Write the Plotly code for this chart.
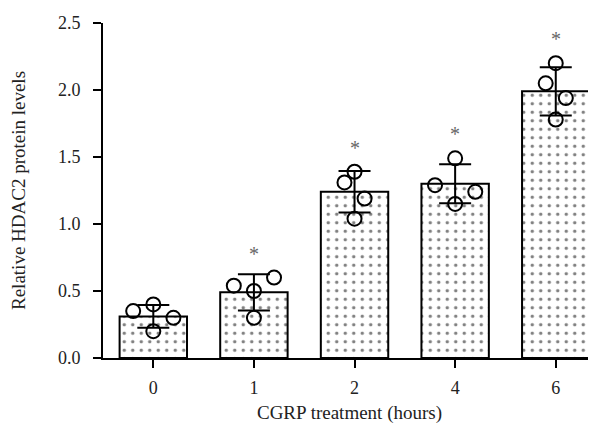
import plotly.graph_objects as go

categories = ["0", "1", "2", "4", "6"]
means = [0.31, 0.49, 1.24, 1.30, 1.99]
sds = [0.085, 0.135, 0.155, 0.145, 0.18]
points = [
    [0.35, 0.40, 0.30, 0.20],
    [0.54, 0.50, 0.60, 0.30],
    [1.31, 1.39, 1.19, 1.04],
    [1.29, 1.49, 1.24, 1.15],
    [2.05, 2.20, 1.94, 1.78],
]
jitter = [
    [-0.2, 0, 0.2, 0],
    [-0.2, 0, 0.2, 0],
    [-0.1, 0, 0.1, 0],
    [-0.2, 0, 0.2, 0],
    [-0.1, 0, 0.1, 0],
]
significant = [False, True, True, True, True]

FONT = "Liberation Serif"
xpos = list(range(len(categories)))

fig = go.Figure()
fig.add_trace(go.Bar(
    x=xpos, y=means, width=0.67,
    marker=dict(color="white",
                line=dict(color="black", width=2),
                pattern=dict(shape=".", fgcolor="black", bgcolor="white",
                             size=8.5, solidity=0.13)),
    error_y=dict(type="data", array=sds, visible=True, color="black",
                 thickness=2, width=16),
    showlegend=False,
))

px, py = [], []
for i, (vals, offs) in enumerate(zip(points, jitter)):
    for v, o in zip(vals, offs):
        px.append(i + o)
        py.append(v)
fig.add_trace(go.Scatter(
    x=px, y=py, mode="markers",
    marker=dict(symbol="circle-open", size=14, color="black",
                line=dict(width=2, color="black")),
    showlegend=False, cliponaxis=False,
))

for i, sig in enumerate(significant):
    if sig:
        fig.add_annotation(x=i, y=max(points[i]), text="*", showarrow=False,
                           yanchor="middle", yshift=24,
                           font=dict(family=FONT, size=20, color="#666666"))

fig.update_layout(
    width=596, height=426,
    margin=dict(l=95, r=8, t=15, b=76),
    paper_bgcolor="white", plot_bgcolor="white",
    font=dict(family=FONT, size=18, color="#222222"),
)
fig.update_xaxes(
    range=[-0.5, 4.4], tickvals=xpos, ticktext=categories,
    showline=True, linecolor="black", linewidth=2,
    ticks="outside", ticklen=8, tickwidth=2, tickcolor="black",
    ticklabelstandoff=4,
    showgrid=False, zeroline=False, automargin=False,
    title=dict(text="CGRP treatment (hours)", font=dict(size=19), standoff=9),
)
fig.update_yaxes(
    range=[0, 2.5], tickvals=[0, 0.5, 1.0, 1.5, 2.0, 2.5],
    ticktext=["0.0", "0.5", "1.0", "1.5", "2.0", "2.5"],
    showline=True, linecolor="black", linewidth=2,
    ticks="outside", ticklen=8, tickwidth=2, tickcolor="black",
    ticklabelstandoff=9,
    showgrid=False, zeroline=False, automargin=False,
    title=dict(text="Relative HDAC2 protein levels", font=dict(size=19), standoff=30),
)

fig.write_html("out.html")
